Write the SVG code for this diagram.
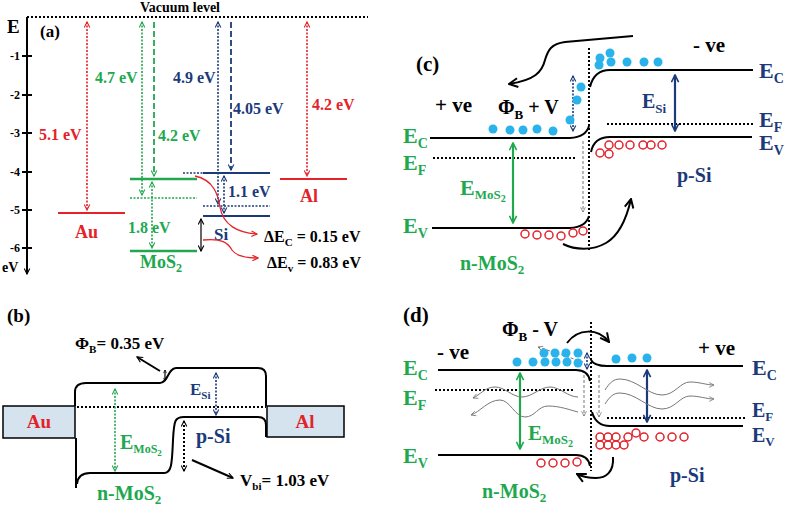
<svg xmlns="http://www.w3.org/2000/svg" width="787" height="506" viewBox="0 0 787 506" font-family="'Liberation Serif','DejaVu Serif',serif">
<style>
text{font-family:"Liberation Serif","DejaVu Serif",serif;font-weight:bold}
.r{fill:#e3222a}.g{fill:#21a84f}.n{fill:#1b3a7a}.k{fill:#000}
.band{fill:none;stroke:#000;stroke-width:2}
.dotK{stroke:#000;stroke-width:2;stroke-dasharray:2,2;fill:none}
.dotR{stroke:#e3222a;stroke-width:1.6;stroke-dasharray:2,1.5;fill:none}
.dotG{stroke:#21a84f;stroke-width:1.6;stroke-dasharray:2,1.5;fill:none}
.dotN{stroke:#1b3a7a;stroke-width:1.6;stroke-dasharray:2,1.5;fill:none}
.dashG{stroke:#21a84f;stroke-width:1.8;stroke-dasharray:6,3;fill:none}
.dashN{stroke:#1b3a7a;stroke-width:1.8;stroke-dasharray:6,3;fill:none}
.grey{stroke:#777;stroke-width:1;fill:none}
.greyd{stroke:#777;stroke-width:1;stroke-dasharray:3,2;fill:none}
.e{fill:#29b3ea}
.h{fill:none;stroke:#e3222a;stroke-width:1.5}
.box{fill:#d5e3ef;stroke:#000;stroke-width:1.5}
</style>
<defs>
<marker id="aR" viewBox="0 0 10 10" refX="9" refY="5" markerWidth="7" markerHeight="7" markerUnits="userSpaceOnUse" orient="auto-start-reverse"><path d="M1,1 L9,5 L1,9" fill="none" stroke="#e3222a" stroke-width="1.6"/></marker>
<marker id="aG" viewBox="0 0 10 10" refX="9" refY="5" markerWidth="7" markerHeight="7" markerUnits="userSpaceOnUse" orient="auto-start-reverse"><path d="M1,1 L9,5 L1,9" fill="none" stroke="#21a84f" stroke-width="1.6"/></marker>
<marker id="aN" viewBox="0 0 10 10" refX="9" refY="5" markerWidth="7" markerHeight="7" markerUnits="userSpaceOnUse" orient="auto-start-reverse"><path d="M1,1 L9,5 L1,9" fill="none" stroke="#1b3a7a" stroke-width="1.6"/></marker>
<marker id="aK" viewBox="0 0 10 10" refX="9" refY="5" markerWidth="7" markerHeight="7" markerUnits="userSpaceOnUse" orient="auto-start-reverse"><path d="M1,1 L9,5 L1,9" fill="none" stroke="#000" stroke-width="1.6"/></marker>
<marker id="aGr" viewBox="0 0 10 10" refX="9" refY="5" markerWidth="6" markerHeight="6" markerUnits="userSpaceOnUse" orient="auto-start-reverse"><path d="M1,1 L9,5 L1,9" fill="none" stroke="#777" stroke-width="1.3"/></marker>
<marker id="aKb" viewBox="0 0 10 10" refX="9" refY="5" markerWidth="11" markerHeight="11" markerUnits="userSpaceOnUse" orient="auto"><path d="M1,1 L9,5 L1,9" fill="none" stroke="#000" stroke-width="1.8"/></marker>
<marker id="aGs" viewBox="0 0 10 10" refX="9" refY="5" markerWidth="9" markerHeight="9" markerUnits="userSpaceOnUse" orient="auto-start-reverse"><path d="M1,1 L9,5 L1,9" fill="none" stroke="#21a84f" stroke-width="1.8"/></marker>
<marker id="aNs" viewBox="0 0 10 10" refX="9" refY="5" markerWidth="9" markerHeight="9" markerUnits="userSpaceOnUse" orient="auto-start-reverse"><path d="M1,1 L9,5 L1,9" fill="none" stroke="#1b3a7a" stroke-width="1.8"/></marker>
<marker id="aKs" viewBox="0 0 10 10" refX="9" refY="5" markerWidth="4" markerHeight="4" markerUnits="userSpaceOnUse" orient="auto-start-reverse"><path d="M1,1 L9,5 L1,9" fill="none" stroke="#000" stroke-width="1.6"/></marker>
</defs>

<!-- ===== Panel (a) ===== -->
<g id="panelA">
<line class="dotK" x1="27" y1="17" x2="368" y2="17"/>
<text x="180" y="12" font-size="14" text-anchor="middle">Vacuum level</text>
<text x="7" y="33" font-size="19">E</text>
<text x="40" y="37" font-size="17">(a)</text>
<line x1="27" y1="17" x2="27" y2="274" stroke="#000" stroke-width="2" marker-end="url(#aK)"/>
<g stroke="#000" stroke-width="2">
<line x1="22" y1="56" x2="32" y2="56"/><line x1="22" y1="95" x2="32" y2="95"/><line x1="22" y1="133" x2="32" y2="133"/>
<line x1="22" y1="172" x2="32" y2="172"/><line x1="22" y1="210" x2="32" y2="210"/><line x1="22" y1="248" x2="32" y2="248"/>
</g>
<g font-size="12" text-anchor="end">
<text x="20" y="60">-1</text><text x="20" y="99">-2</text><text x="20" y="137">-3</text>
<text x="20" y="176">-4</text><text x="20" y="214">-5</text><text x="20" y="252">-6</text>
</g>
<text x="2" y="272" font-size="14">eV</text>
</g>

<g id="Au-a">
<line x1="58" y1="213" x2="125" y2="213" stroke="#e3222a" stroke-width="2"/>
<text class="r" x="75" y="238" font-size="18">Au</text>
<text class="r" x="39" y="140" font-size="16">5.1 eV</text>
</g>
<g id="MoS2-a">
<line x1="130" y1="179" x2="197" y2="179" stroke="#21a84f" stroke-width="2.5"/>
<line class="dotG" x1="130" y1="198" x2="197" y2="198"/>
<line x1="130" y1="251" x2="197" y2="251" stroke="#21a84f" stroke-width="2.5"/>
<text class="g" x="95" y="83" font-size="16">4.7 eV</text>
<text class="g" x="158" y="141" font-size="16">4.2 eV</text>
<text class="g" x="128" y="233" font-size="16">1.8 eV</text>
<text class="g" x="140" y="268" font-size="18">MoS<tspan font-size="12" dy="4">2</tspan></text>
</g>
<g id="Si-a">
<line class="dotN" x1="183" y1="173" x2="203" y2="173"/>
<line x1="203" y1="173" x2="270" y2="173" stroke="#1b3a7a" stroke-width="2"/>
<line class="dotN" x1="203" y1="206" x2="270" y2="206"/>
<line x1="203" y1="216" x2="270" y2="216" stroke="#1b3a7a" stroke-width="2"/>
<text class="n" x="173" y="83" font-size="16">4.9 eV</text>
<text class="n" x="233" y="114" font-size="16">4.05 eV</text>
<text class="n" x="228" y="197" font-size="16">1.1 eV</text>
<text class="n" x="214" y="240" font-size="17">Si</text>
</g>
<g id="Al-a">
<line x1="280" y1="179" x2="347" y2="179" stroke="#e3222a" stroke-width="2"/>
<text class="r" x="300" y="202" font-size="18">Al</text>
<text class="r" x="312" y="110" font-size="16">4.2 eV</text>
</g>
<g id="offsets-a">
<text x="264" y="242" font-size="16">ΔE<tspan font-size="11" dy="4">C</tspan><tspan dy="-4"> = 0.15 eV</tspan></text>
<text x="267" y="268" font-size="16">ΔE<tspan font-size="11" dy="4">v</tspan><tspan dy="-4"> = 0.83 eV</tspan></text>
</g>

<!-- ===== Panel (b) ===== -->
<g id="panelB">
<text x="7" y="322" font-size="19">(b)</text>
<line class="dotK" x1="77" y1="407" x2="266" y2="407"/>
<path class="band" d="M75,406 L75,392 Q75,383 86,383 L160,383 C168,383 168,368 176,368 L258,368 Q266,368 266,376 L266,406"/>
<path class="band" d="M76,438 L76,488"/>
<path class="band" d="M77,484 Q78,473 90,473 L164,473 C172,473 172,462 173,440 C174,420 175,417 184,417 L258,417 Q266,417 266,425 L266,437"/>
<line class="dotG" x1="115" y1="389" x2="115" y2="471" marker-start="url(#aG)" marker-end="url(#aG)"/>
<line class="dotN" x1="216" y1="373" x2="216" y2="415" marker-start="url(#aN)" marker-end="url(#aN)"/>
<line class="dotK" x1="184" y1="421" x2="184" y2="471" stroke-width="1.4" marker-start="url(#aK)" marker-end="url(#aK)"/>
<line x1="165" y1="370" x2="165" y2="381" stroke="#000" stroke-width="1.2" marker-start="url(#aKs)" marker-end="url(#aKs)"/>
<line x1="160" y1="371" x2="137" y2="357" stroke="#000" stroke-width="2" marker-end="url(#aK)"/>
<line x1="192" y1="460" x2="233" y2="478" stroke="#000" stroke-width="2" marker-end="url(#aK)"/>
<text x="75" y="349" font-size="17">Φ<tspan font-size="11" dy="4">B</tspan><tspan dy="-4">= 0.35 eV</tspan></text>
<text x="240" y="486" font-size="17">V<tspan font-size="11" dy="4">bi</tspan><tspan dy="-4">= 1.03 eV</tspan></text>
<text class="g" x="120" y="449" font-size="20">E<tspan font-size="12" dy="4">MoS</tspan><tspan font-size="9" dy="3">2</tspan></text>
<text class="n" x="190" y="395" font-size="17">E<tspan font-size="11" dy="4">Si</tspan></text>
<text class="n" x="196" y="443" font-size="20">p-Si</text>
<text class="g" x="97" y="500" font-size="20">n-MoS<tspan font-size="13" dy="4">2</tspan></text>
</g>
<g id="Au-b">
<rect class="box" x="3" y="406" width="72" height="32"/>
<text class="r" x="39" y="428" font-size="19" text-anchor="middle">Au</text>
</g>
<g id="Al-b">
<rect class="box" x="267" y="406" width="77" height="31"/>
<text class="r" x="305" y="428" font-size="19" text-anchor="middle">Al</text>
</g>

<!-- ===== Panel (c) ===== -->
<g id="panelC">
<text x="416" y="71" font-size="21">(c)</text>
<text x="435" y="112" font-size="21">+ ve</text>
<text x="693" y="52" font-size="21">- ve</text>
<text x="498" y="114" font-size="20">Φ<tspan font-size="13" dy="5">B</tspan><tspan dy="-5"> + V</tspan></text>
<line class="dotK" x1="589" y1="48" x2="589" y2="251"/>
<line class="dotK" x1="433" y1="158" x2="575" y2="158"/>
<line class="dotK" x1="607" y1="124" x2="753" y2="124"/>
<path class="band" d="M430,138 L570,138 Q586,137 589,126"/>
<path class="band" d="M432,228 L570,228 Q586,227 589,216"/>
<path class="band" d="M590,87 Q594,70 610,70 L753,70"/>
<path class="band" d="M591,152 Q594,137 610,137 L752,137"/>
<line x1="513" y1="143" x2="513" y2="223" stroke="#21a84f" stroke-width="2.2" marker-start="url(#aGs)" marker-end="url(#aGs)"/>
<line x1="675" y1="75" x2="675" y2="131" stroke="#1b3a7a" stroke-width="2.2" marker-start="url(#aNs)" marker-end="url(#aNs)"/>
<line class="dotN" x1="573" y1="76" x2="573" y2="131" marker-start="url(#aN)" marker-end="url(#aN)"/>
<line class="greyd" x1="583" y1="141" x2="583" y2="212" marker-end="url(#aGr)"/>
<path d="M633,36 L565,42 C551,44 548,50 545,60 C542,72 535,80 509,84" fill="none" stroke="#000" stroke-width="2" marker-end="url(#aKb)"/>
<path d="M563,244 C575,250 592,251 606,243 C618,236 626,221 631,199" fill="none" stroke="#000" stroke-width="2" marker-end="url(#aKb)"/>
<g class="e">
<circle cx="493" cy="129" r="4.5"/><circle cx="510" cy="130" r="4.5"/><circle cx="523" cy="130" r="4.5"/><circle cx="537" cy="129" r="4.5"/><circle cx="553" cy="131" r="4.5"/>
<circle cx="570" cy="120" r="4.5"/><circle cx="577" cy="100" r="4.5"/><circle cx="581" cy="87" r="4.5"/>
<circle cx="600" cy="58" r="4.5"/><circle cx="599" cy="65" r="4.5"/><circle cx="610" cy="53" r="4.5"/><circle cx="611" cy="62" r="4.5"/>
<circle cx="627" cy="62" r="4.5"/><circle cx="644" cy="62" r="4.5"/><circle cx="658" cy="62" r="4.5"/>
</g>
<g class="h">
<circle cx="525" cy="234" r="4"/><circle cx="537" cy="235" r="4"/><circle cx="549" cy="235" r="4"/><circle cx="561" cy="236" r="4"/><circle cx="573" cy="233" r="4"/><circle cx="583" cy="231" r="4"/>
<circle cx="609" cy="145" r="4"/><circle cx="619" cy="145" r="4"/><circle cx="630" cy="145" r="4"/><circle cx="643" cy="145" r="4"/><circle cx="651" cy="145" r="4"/><circle cx="662" cy="145" r="4"/>
<circle cx="600" cy="153" r="4"/><circle cx="609" cy="154" r="4"/>
</g>
<text class="g" x="403" y="143" font-size="22">E<tspan font-size="14" dy="5">C</tspan></text>
<text class="g" x="403" y="170" font-size="22">E<tspan font-size="14" dy="5">F</tspan></text>
<text class="g" x="403" y="233" font-size="22">E<tspan font-size="14" dy="5">V</tspan></text>
<text class="g" x="460" y="195" font-size="22">E<tspan font-size="13" dy="4">MoS</tspan><tspan font-size="10" dy="3">2</tspan></text>
<text class="n" x="642" y="108" font-size="20">E<tspan font-size="13" dy="5">Si</tspan></text>
<text class="n" x="759" y="78" font-size="22">E<tspan font-size="14" dy="5">C</tspan></text>
<text class="n" x="759" y="127" font-size="22">E<tspan font-size="14" dy="5">F</tspan></text>
<text class="n" x="759" y="150" font-size="22">E<tspan font-size="14" dy="5">V</tspan></text>
<text class="n" x="677" y="182" font-size="20">p-Si</text>
<text class="g" x="460" y="270" font-size="20">n-MoS<tspan font-size="13" dy="4">2</tspan></text>
</g>

<!-- ===== Panel (d) ===== -->
<g id="panelD">
<text x="403" y="322" font-size="21">(d)</text>
<text x="502" y="336" font-size="20">Φ<tspan font-size="13" dy="5">B</tspan><tspan dy="-5"> - V</tspan></text>
<text x="437" y="359" font-size="21">- ve</text>
<text x="698" y="355" font-size="21">+ ve</text>
<line class="dotK" x1="591" y1="322" x2="591" y2="471"/>
<line class="dotK" x1="435" y1="390" x2="575" y2="390"/>
<line class="dotK" x1="607" y1="418" x2="745" y2="418"/>
<path class="band" d="M438,370 L576,370 Q588,370 590,381"/>
<path class="band" d="M438,455 L576,455 Q588,455 590,466"/>
<path class="band" d="M591,360 Q594,366 607,366 L743,366"/>
<path class="band" d="M592,412 Q596,426 610,426 L743,426"/>
<line x1="520" y1="373" x2="520" y2="449" stroke="#21a84f" stroke-width="2.2" marker-start="url(#aGs)" marker-end="url(#aGs)"/>
<line x1="647" y1="370" x2="647" y2="422" stroke="#1b3a7a" stroke-width="2.2" marker-start="url(#aNs)" marker-end="url(#aNs)"/>
<line class="dotN" x1="587" y1="353" x2="587" y2="369" marker-start="url(#aN)" marker-end="url(#aN)"/>
<line class="greyd" x1="584" y1="375" x2="584" y2="416" marker-end="url(#aGr)"/>
<line class="greyd" x1="599" y1="375" x2="599" y2="417" marker-end="url(#aGr)"/>
<line class="greyd" x1="583" y1="362" x2="538" y2="347" marker-end="url(#aGr)"/>
<path class="grey" d="M578,397 C568,397 560,387 550,387 C540,387 532,397 522,397 C512,397 505,387 495,387 C485,387 480,395 473,398" marker-end="url(#aGr)"/>
<path class="grey" d="M578,412 C570,410 560,406 548,406 C538,406 535,417 525,417 C515,417 510,400 500,400 C488,400 480,412 471,415" marker-end="url(#aGr)"/>
<path class="grey" d="M605,390 C610,382 614,379 620,379 C636,379 648,395 662,395 C675,395 680,382 690,382 C700,382 706,385 714,385" marker-end="url(#aGr)"/>
<path class="grey" d="M605,404 C610,396 614,393 620,393 C636,393 648,409 662,409 C675,409 680,396 690,396 C700,396 706,399 714,399" marker-end="url(#aGr)"/>
<path d="M567,343 C578,328 598,328 609,342" fill="none" stroke="#000" stroke-width="2" marker-end="url(#aKb)"/>
<path d="M613,457 C614,472 606,478 596,478 C589,478 583,477 577,474" fill="none" stroke="#000" stroke-width="2" marker-end="url(#aKb)"/>
<g class="e">
<circle cx="517" cy="362" r="4.5"/><circle cx="533" cy="362" r="4.5"/><circle cx="545" cy="362" r="4.5"/><circle cx="556" cy="362" r="4.5"/><circle cx="567" cy="362" r="4.5"/><circle cx="578" cy="363" r="4.5"/>
<circle cx="544" cy="353" r="4.5"/><circle cx="555" cy="353" r="4.5"/><circle cx="566" cy="353" r="4.5"/><circle cx="578" cy="353" r="4.5"/>
<circle cx="616" cy="359" r="4.5"/><circle cx="632" cy="358" r="4.5"/><circle cx="647" cy="358" r="4.5"/>
</g>
<g class="h">
<circle cx="541" cy="463" r="4"/><circle cx="553" cy="463" r="4"/><circle cx="565" cy="463" r="4"/><circle cx="577" cy="462" r="4"/>
<circle cx="600" cy="437" r="4"/><circle cx="608" cy="437" r="4"/><circle cx="616" cy="437" r="4"/><circle cx="628" cy="437" r="4"/><circle cx="636" cy="433" r="4"/>
<circle cx="644" cy="437" r="4"/><circle cx="660" cy="437" r="4"/><circle cx="672" cy="437" r="4"/><circle cx="684" cy="437" r="4"/>
<circle cx="600" cy="445" r="4"/><circle cx="608" cy="445" r="4"/><circle cx="616" cy="445" r="4"/><circle cx="624" cy="445" r="4"/>
</g>
<text class="g" x="403" y="375" font-size="22">E<tspan font-size="14" dy="5">C</tspan></text>
<text class="g" x="403" y="405" font-size="22">E<tspan font-size="14" dy="5">F</tspan></text>
<text class="g" x="403" y="463" font-size="22">E<tspan font-size="14" dy="5">V</tspan></text>
<text class="g" x="528" y="440" font-size="21">E<tspan font-size="13" dy="4">MoS</tspan><tspan font-size="10" dy="3">2</tspan></text>
<text class="n" x="752" y="375" font-size="22">E<tspan font-size="14" dy="5">C</tspan></text>
<text class="n" x="752" y="417" font-size="20">E<tspan font-size="13" dy="4">F</tspan></text>
<text class="n" x="752" y="442" font-size="20">E<tspan font-size="13" dy="4">V</tspan></text>
<text class="n" x="670" y="482" font-size="20">p-Si</text>
<text class="g" x="482" y="498" font-size="20">n-MoS<tspan font-size="13" dy="4">2</tspan></text>
</g>

<!-- ===== Connectors (arrows in panel a) ===== -->
<g id="connectors">
<line class="dotR" x1="87" y1="22" x2="87" y2="210" marker-start="url(#aR)" marker-end="url(#aR)"/>
<line class="dotG" x1="142" y1="22" x2="142" y2="195" marker-start="url(#aG)" marker-end="url(#aG)"/>
<line class="dashG" x1="154" y1="22" x2="154" y2="176" marker-end="url(#aG)"/>
<line class="dotG" x1="152" y1="182" x2="152" y2="248" marker-start="url(#aG)" marker-end="url(#aG)"/>
<line class="dotN" x1="218" y1="22" x2="218" y2="204" marker-start="url(#aN)" marker-end="url(#aN)"/>
<line class="dashN" x1="231" y1="22" x2="231" y2="170" marker-end="url(#aN)"/>
<line class="dotN" x1="224" y1="176" x2="224" y2="213" marker-start="url(#aN)" marker-end="url(#aN)"/>
<line x1="201" y1="219" x2="201" y2="251" stroke="#000" stroke-width="1.2" marker-start="url(#aK)" marker-end="url(#aK)"/>
<line class="dotR" x1="307" y1="22" x2="307" y2="176" marker-start="url(#aR)" marker-end="url(#aR)"/>
<path d="M195,176 C214,180 218,195 220,207 C223,225 238,233 257,234" fill="none" stroke="#e3222a" stroke-width="1.3" marker-end="url(#aR)"/>
<path d="M203,240 C222,238 228,243 232,250 C236,256 245,258 258,258" fill="none" stroke="#e3222a" stroke-width="1.3" marker-end="url(#aR)"/>
</g>
</svg>
